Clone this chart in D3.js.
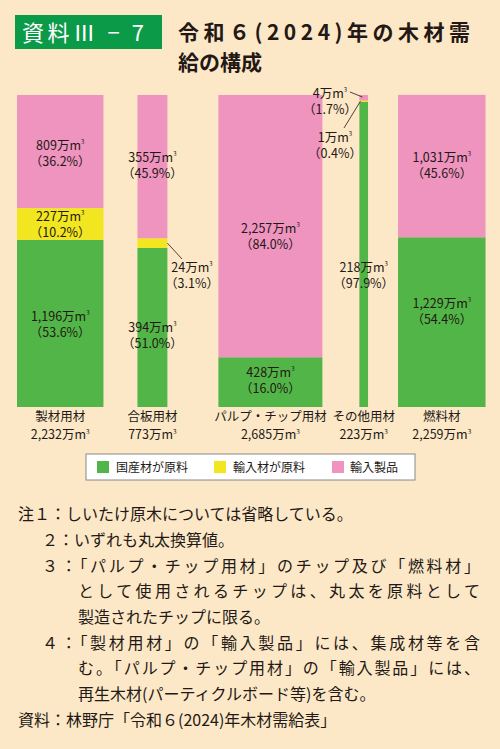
<!DOCTYPE html>
<html><head><meta charset="utf-8">
<script src="https://cdn.jsdelivr.net/npm/d3@7"></script>
<style>body{margin:0;background:#fce8c7;}svg{display:block;font-family:"Noto Sans CJK JP","Noto Sans",sans-serif;}</style>
</head><body>
<svg id="c" width="500" height="749"></svg>
<script>
const categories = ["製材用材","合板用材","パルプ・チップ用材","その他用材","燃料材"];
const totals = [2232, 773, 2685, 223, 2259];
const domestic = [1196, 394, 428, 218, 1229];
const importedRaw = [227, 24, 0, 1, 0];
const importedProd = [809, 355, 2257, 4, 1031];
const pctDomestic = ["53.6","51.0","16.0","97.9","54.4"];
const pctImpRaw = ["10.2","3.1","","0.4",""];
const pctImpProd = ["36.2","45.9","84.0","1.7","45.6"];
const seriesNames = ["国産材が原料","輸入材が原料","輸入製品"];
const colors = ["#52b547","#f1e620","#ef94bf"];
const fmt = d3.format(",");

const svg = d3.select("#c");
svg.append("rect").attr("width",500).attr("height",749).attr("fill","#fce8c7");
svg.append("rect").attr("x",15).attr("y",15).attr("width",147).attr("height",34).attr("fill","#0b9a48");
svg.append("text").attr("x",22).attr("y",41).attr("fill","#fff").attr("font-size",22).attr("textLength",122).attr("lengthAdjust","spacing").text("資料Ⅲ − 7");
svg.append("text").attr("x",178).attr("y",40).attr("font-size",21).attr("font-weight","bold").attr("fill","#231815").attr("textLength",292).attr("lengthAdjust","spacing").text("令和６(2024)年の木材需");
svg.append("text").attr("x",178).attr("y",70).attr("font-size",21).attr("font-weight","bold").attr("fill","#231815").text("給の構成");

const gaps = [17, 34, 51, 37, 30];
const w = d3.scaleLinear().domain([0, 2685]).range([0, 104]);
let xs = [], acc = 0;
totals.forEach((t,i)=>{acc += gaps[i]; xs.push(acc); acc += w(t);});
const y = d3.scaleLinear().domain([0,1]).range([407,95]);

function label(g, x, yy, val, pct){
  const t = g.append("text").attr("x",x).attr("y",yy).attr("text-anchor","middle").attr("font-size",12.5).attr("fill","#231815");
  t.append("tspan").text(fmt(val)+"万m");
  t.append("tspan").attr("font-size",6).attr("dy",-6).text("3");
  g.append("text").attr("x",x).attr("y",yy+16).attr("text-anchor","middle").attr("font-size",12.5).attr("fill","#231815").text("（"+pct+"%）");
}
const g = svg.append("g");
categories.forEach((c,i)=>{
  const vals=[domestic[i], importedRaw[i], importedProd[i]];
  let cum=0;
  const x0=xs[i], bw=w(totals[i]), cx=x0+bw/2;
  vals.forEach((v,k)=>{
    const s=cum/totals[i], e=(cum+v)/totals[i];
    cum+=v;
    if(v>0) g.append("rect").attr("x",x0).attr("width",bw).attr("y",y(e)).attr("height",y(s)-y(e)).attr("fill",colors[k]);
  });
  g.append("text").attr("x",cx).attr("y",421).attr("text-anchor","middle").attr("font-size",12.5).attr("fill","#231815").text(c);
  const t2 = g.append("text").attr("x",cx).attr("y",439).attr("text-anchor","middle").attr("font-size",12.5).attr("fill","#231815");
  t2.append("tspan").text(fmt(totals[i])+"万m"); t2.append("tspan").attr("font-size",6.5).attr("dy",-5).text("3");
});
const L = svg.append("g");
const mid=(i,a,b)=>(y(a/totals[i])+y(b/totals[i]))/2;
label(L, xs[0]+w(totals[0])/2, mid(0,0,domestic[0])-2, domestic[0], pctDomestic[0]);
label(L, xs[0]+w(totals[0])/2, mid(0,domestic[0],domestic[0]+importedRaw[0])-3, importedRaw[0], pctImpRaw[0]);
label(L, xs[0]+w(totals[0])/2, mid(0,totals[0]-importedProd[0],totals[0])-2, importedProd[0], pctImpProd[0]);
const c1=xs[1]+w(totals[1])/2;
label(L, c1, 332, domestic[1], pctDomestic[1]);
label(L, c1, 162, importedProd[1], pctImpProd[1]);
L.append("line").attr("x1",xs[1]+w(totals[1])).attr("y1",mid(1,domestic[1],domestic[1]+importedRaw[1])).attr("x2",182).attr("y2",259).attr("stroke","#231815").attr("stroke-width",0.8);
label(L, 192, 272, importedRaw[1], pctImpRaw[1]);
const c2=xs[2]+w(totals[2])/2;
label(L, c2, 377, domestic[2], pctDomestic[2]);
label(L, c2, 233, importedProd[2], pctImpProd[2]);
const c3=xs[3]+w(totals[3])/2;
label(L, c3, 272, domestic[3], pctDomestic[3]);
L.append("line").attr("x1",350).attr("y1",92).attr("x2",xs[3]+3).attr("y2",97).attr("stroke","#231815").attr("stroke-width",0.8);
label(L, 330, 98, importedProd[3], pctImpProd[3]);
L.append("line").attr("x1",xs[3]+1).attr("y1",mid(3,domestic[3],domestic[3]+importedRaw[3])).attr("x2",344).attr("y2",128).attr("stroke","#231815").attr("stroke-width",0.8);
label(L, 335, 142, importedRaw[3], pctImpRaw[3]);
const c4=xs[4]+w(totals[4])/2;
label(L, c4, 308, domestic[4], pctDomestic[4]);
label(L, c4, 162, importedProd[4], pctImpProd[4]);

svg.append("rect").attr("x",86).attr("y",454).attr("width",329).attr("height",26).attr("fill","#fff").attr("stroke","#888");
const lx=[97,214,332], tx=[116,233,350];
seriesNames.forEach((n,i)=>{
  svg.append("rect").attr("x",lx[i]).attr("y",461).attr("width",12).attr("height",12).attr("fill",colors[i]);
  svg.append("text").attr("x",tx[i]).attr("y",472).attr("font-size",12).attr("fill","#231815").text(n);
});

const notes=[
 [18,520,"注１：しいたけ原木については省略している。",null],
 [42,546,"２：いずれも丸太換算値。",null],
 [42,572,"３：「パルプ・チップ用材」のチップ及び「燃料材」",438],
 [78,597,"として使用されるチップは、丸太を原料として",402],
 [78,623,"製造されたチップに限る。",null],
 [42,649,"４：「製材用材」の「輸入製品」には、集成材等を含",438],
 [78,674,"む。「パルプ・チップ用材」の「輸入製品」には、",402],
 [78,700,"再生木材(パーティクルボード等)を含む。",null],
 [18,726,"資料：林野庁「令和６(2024)年木材需給表」",null]];
notes.forEach(n=>{
  const t=svg.append("text").attr("x",n[0]).attr("y",n[1]).attr("font-size",16).attr("fill","#231815").text(n[2]);
  if(n[3]) t.attr("textLength",n[3]).attr("lengthAdjust","spacing");
});
</script>
</body></html>
